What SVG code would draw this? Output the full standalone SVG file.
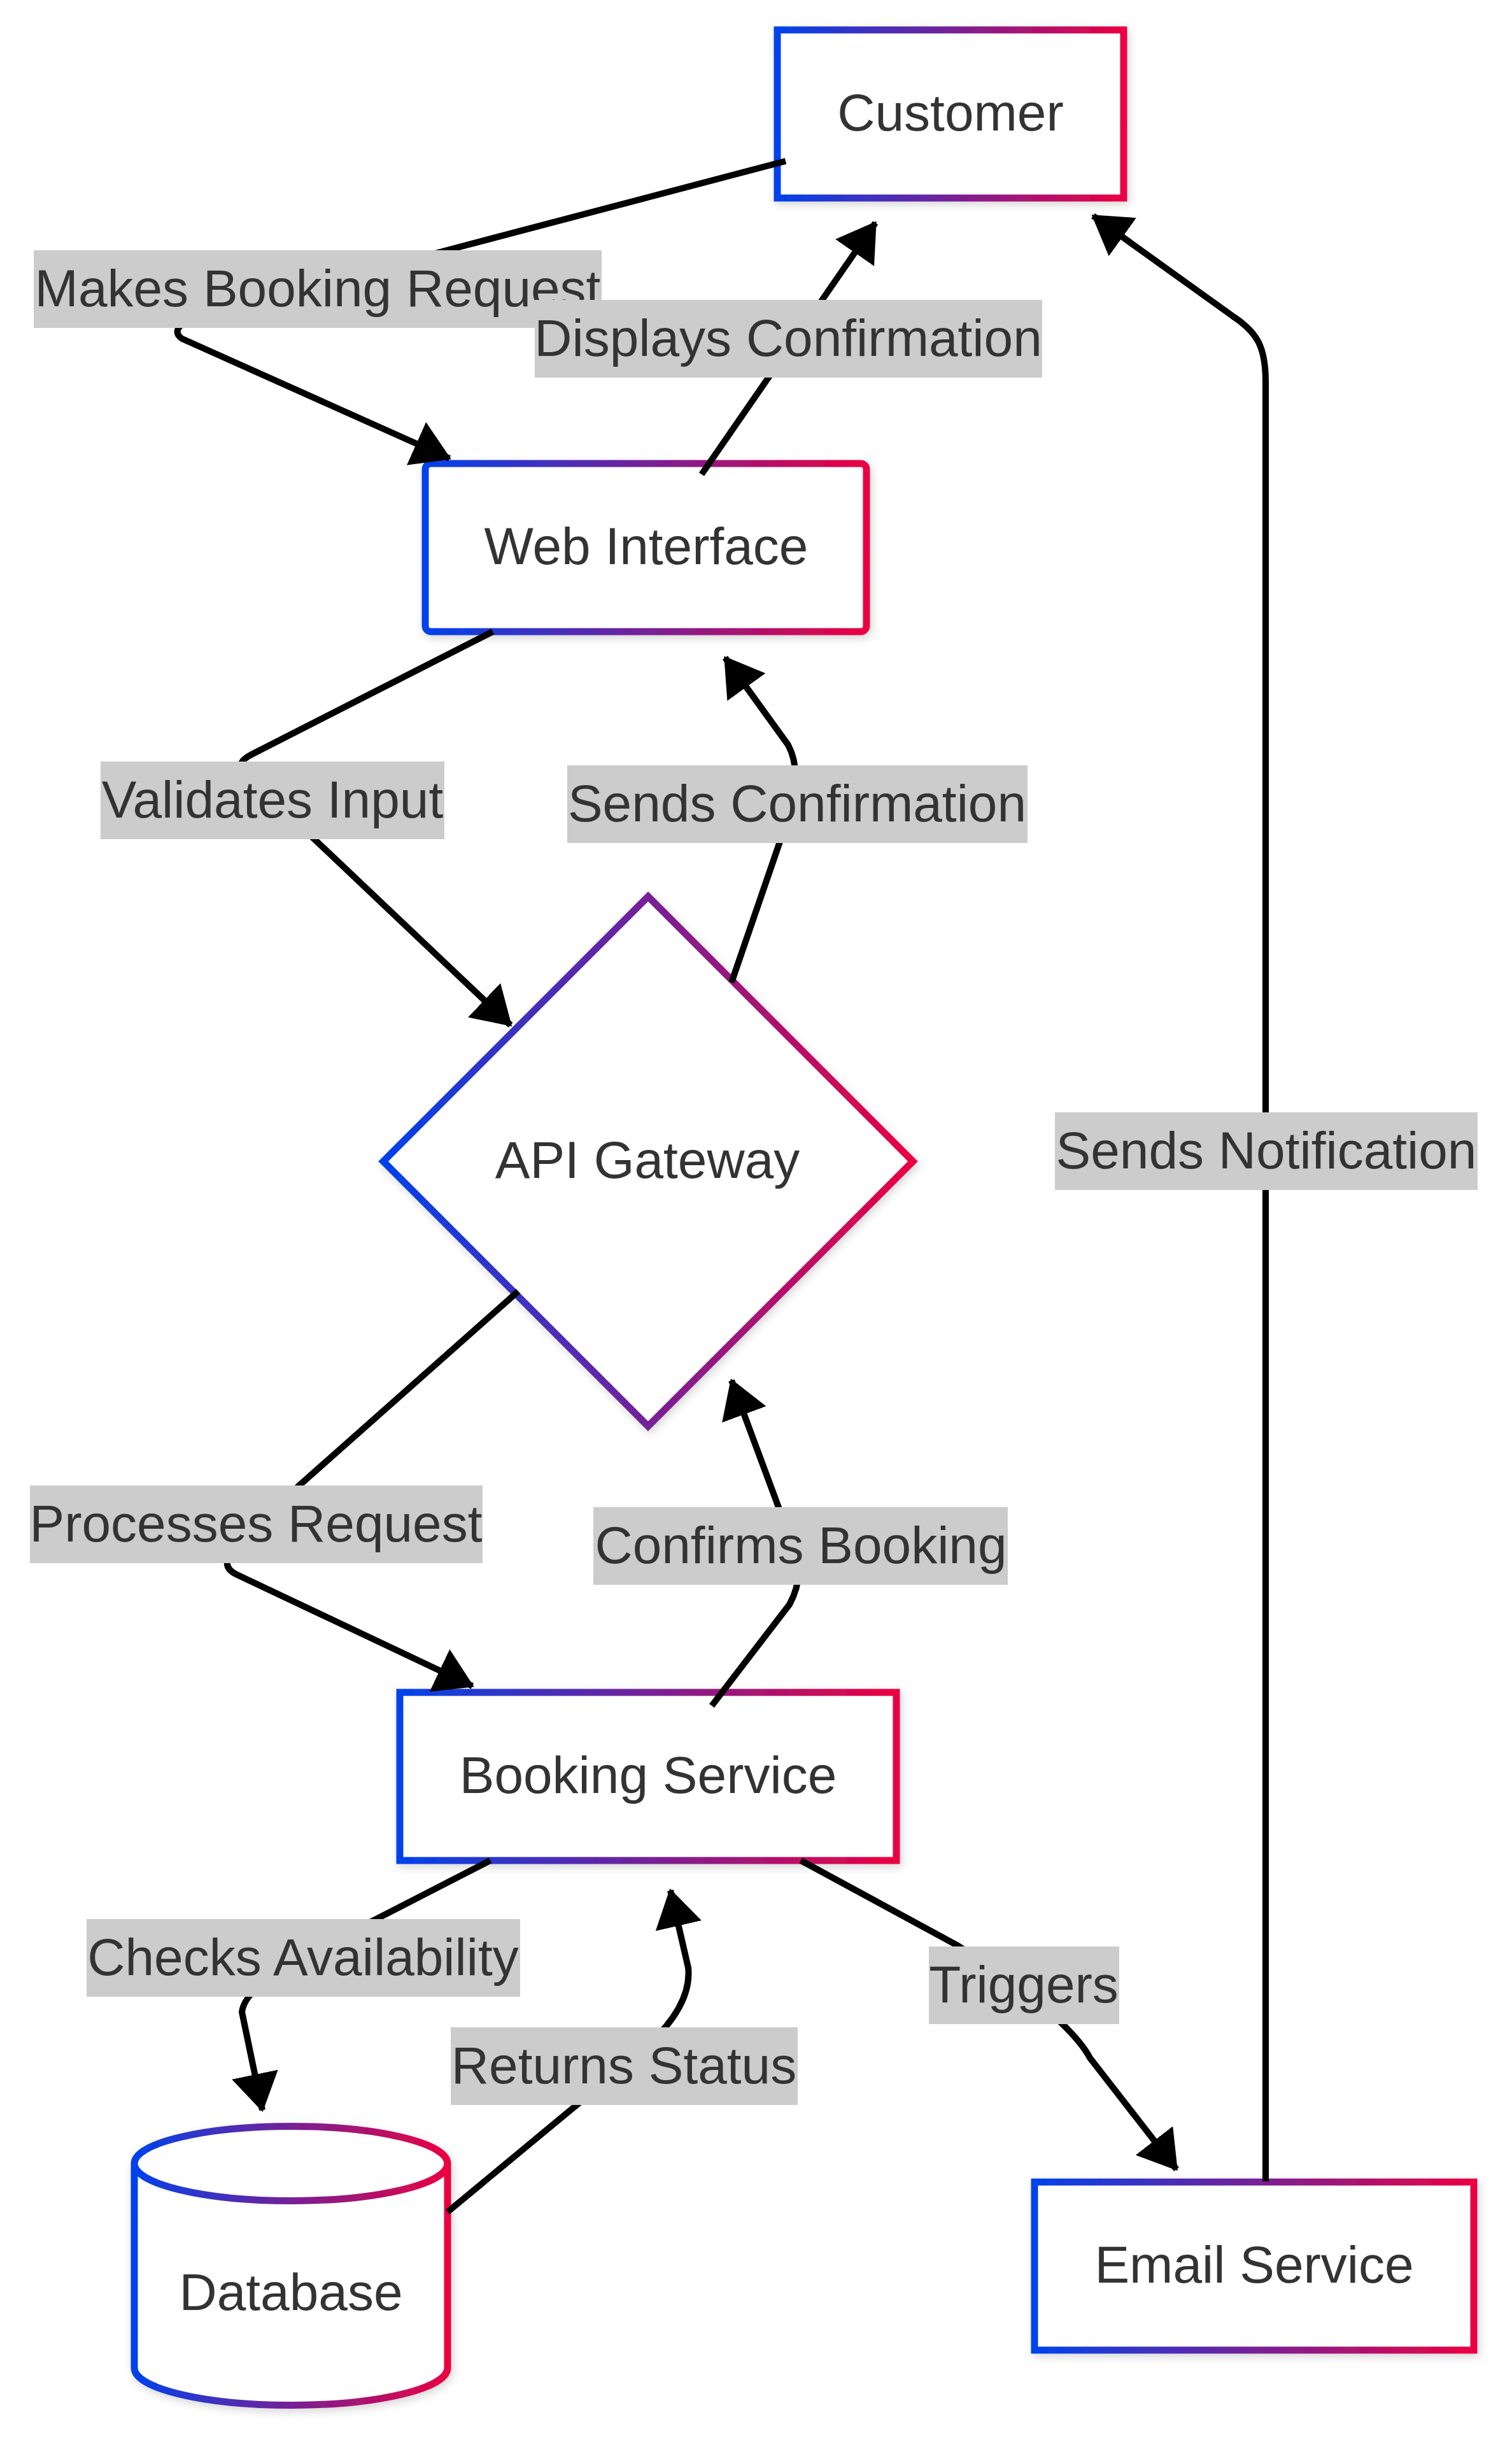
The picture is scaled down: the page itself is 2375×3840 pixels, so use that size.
<svg xmlns="http://www.w3.org/2000/svg" width="2375" height="3840" viewBox="0 0 2375 3840">
<style>
.node-shape{fill:#ffffff;stroke:url(#grad);stroke-width:11;filter:url(#shadow);}
.node-text{font-family:"Liberation Sans",Arial,sans-serif;font-size:82px;fill:#333333;text-anchor:middle;}
.edge{fill:none;stroke:#000000;stroke-width:10;marker-end:url(#arrow);}
.lbl-bg{fill:#cccccc;}
.lbl-text{font-family:"Liberation Sans",Arial,sans-serif;font-size:82px;fill:#333333;text-anchor:middle;}
</style>
<defs>
<linearGradient id="grad" x1="0" y1="0" x2="1" y2="0">
<stop offset="0" stop-color="#0042eb"/>
<stop offset="1" stop-color="#eb0042"/>
</linearGradient>
<filter id="shadow" x="-20%" y="-20%" width="140%" height="140%">
<feDropShadow dx="3" dy="5" stdDeviation="7" flood-color="#000000" flood-opacity="0.16"/>
</filter>
<marker id="arrow" viewBox="0 0 60 74" refX="57" refY="37" markerWidth="60" markerHeight="74" markerUnits="userSpaceOnUse" orient="auto">
<path d="M0,0 L60,37 L0,74 z" fill="#000000"/>
</marker>
</defs>
<rect width="2375" height="3840" fill="#ffffff"/>

<g id="nodes">
<g id="customer">
<rect class="node-shape" x="1221" y="47" width="544" height="264"/>
<text class="node-text" x="1493" y="205">Customer</text>
</g>
<g id="web-interface">
<rect class="node-shape" x="668" y="728" width="693" height="264" rx="9" ry="9"/>
<text class="node-text" x="1015" y="886">Web Interface</text>
</g>
<g id="api-gateway">
<polygon class="node-shape" points="1018,1408 1434,1824 1018,2240 602,1824"/>
<text class="node-text" x="1017" y="1850">API Gateway</text>
</g>
<g id="booking-service">
<rect class="node-shape" x="628" y="2658" width="780" height="264"/>
<text class="node-text" x="1018" y="2816">Booking Service</text>
</g>
<g id="database">
<path class="node-shape" d="M211,3398 a246,58.5 0 0,0 492,0 a246,58.5 0 0,0 -492,0 l0,321 a246,58.5 0 0,0 492,0 l0,-321"/>
<text class="node-text" x="457" y="3628">Database</text>
</g>
<g id="email-service">
<rect class="node-shape" x="1625" y="3427" width="690" height="264"/>
<text class="node-text" x="1970" y="3585">Email Service</text>
</g>
</g>

<g id="connectors">
<path class="edge" d="M1234,253 L706,392 L300,500 Q266,518 286,532 L706,720"/>
<path class="edge" d="M1102,745 L1375,350"/>
<path class="edge" d="M1988,3426 L1988,600 C1988,545 1975,522 1937,497 L1717,339"/>
<path class="edge" d="M774,992 L395,1185 Q370,1198 382,1212 L802,1610"/>
<path class="edge" d="M1149,1543 L1236,1290 Q1262,1215 1238,1170 L1139,1033"/>
<path class="edge" d="M814,2028 L470,2333 L375,2425 Q340,2458 372,2473 L742,2648"/>
<path class="edge" d="M1118,2679 L1240,2520 Q1262,2480 1250,2440 L1149,2168"/>
<path class="edge" d="M770,2922 L560,3030 Q385,3110 380,3160 L412,3314"/>
<path class="edge" d="M703,3474 L1000,3228 Q1088,3155 1081,3090 L1053,2969"/>
<path class="edge" d="M1258,2922 L1505,3056 L1600,3120 Q1690,3190 1712,3232 L1848,3407"/>
</g>

<g id="edge-labels">
<g id="lbl-makes-booking">
<rect class="lbl-bg" x="53" y="393" width="892" height="122"/>
<text class="lbl-text" x="499" y="481">Makes Booking Request</text>
</g>
<g id="lbl-displays">
<rect class="lbl-bg" x="840" y="471" width="797" height="122"/>
<text class="lbl-text" x="1238" y="559">Displays Confirmation</text>
</g>
<g id="lbl-validates">
<rect class="lbl-bg" x="158" y="1196" width="540" height="122"/>
<text class="lbl-text" x="428" y="1284">Validates Input</text>
</g>
<g id="lbl-sends-conf">
<rect class="lbl-bg" x="891" y="1202" width="723" height="122"/>
<text class="lbl-text" x="1252" y="1290">Sends Confirmation</text>
</g>
<g id="lbl-sends-notif">
<rect class="lbl-bg" x="1657" y="1747" width="664" height="122"/>
<text class="lbl-text" x="1989" y="1835">Sends Notification</text>
</g>
<g id="lbl-processes">
<rect class="lbl-bg" x="47" y="2333" width="711" height="122"/>
<text class="lbl-text" x="402" y="2421">Processes Request</text>
</g>
<g id="lbl-confirms">
<rect class="lbl-bg" x="932" y="2367" width="651" height="122"/>
<text class="lbl-text" x="1258" y="2455">Confirms Booking</text>
</g>
<g id="lbl-checks">
<rect class="lbl-bg" x="136" y="3014" width="681" height="122"/>
<text class="lbl-text" x="476" y="3102">Checks Availability</text>
</g>
<g id="lbl-triggers">
<rect class="lbl-bg" x="1459" y="3057" width="299" height="122"/>
<text class="lbl-text" x="1608" y="3145">Triggers</text>
</g>
<g id="lbl-returns">
<rect class="lbl-bg" x="708" y="3184" width="545" height="122"/>
<text class="lbl-text" x="980" y="3272">Returns Status</text>
</g>
</g>
</svg>
